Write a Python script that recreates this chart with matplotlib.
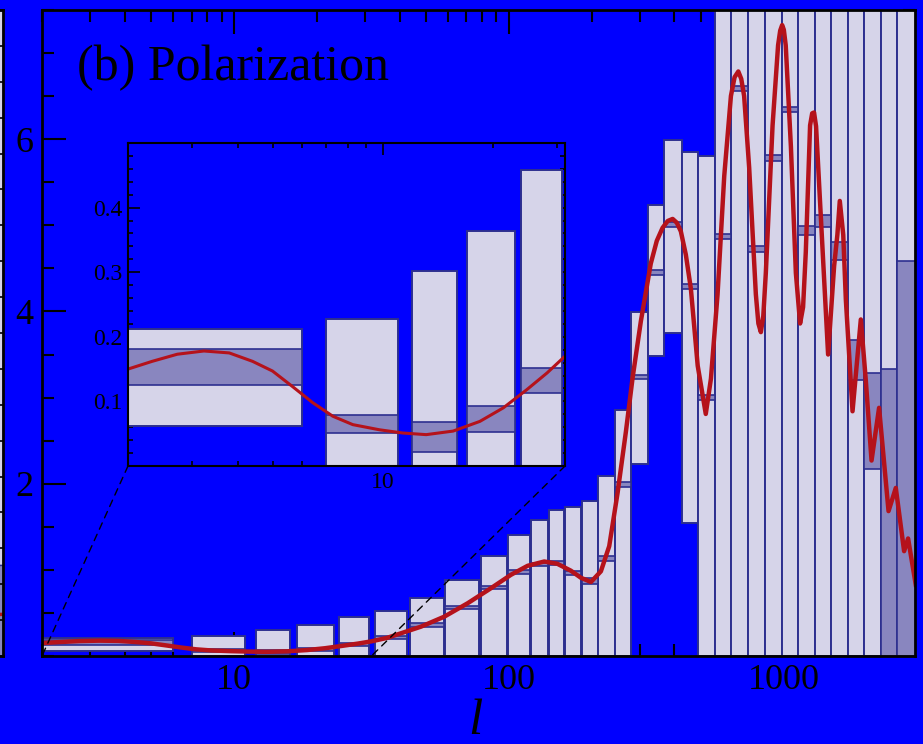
import numpy as np
import matplotlib.pyplot as plt
from matplotlib.ticker import LogLocator, MultipleLocator, NullFormatter
from matplotlib.patches import ConnectionPatch

plt.rcParams['font.family'] = 'Liberation Serif'

BLUE = '#0000ff'
LIGHT = '#d6d4e9'
DARK = '#8986bf'
EDGE = '#2d2f8f'
RED = '#b5121b'

# multipole bins
l_lo = [2, 7, 12, 17, 24, 32.6, 43.8, 58.7, 79, 99.5, 120, 140, 160, 184, 211, 243,
        279, 321, 368, 425, 488, 561, 645, 742, 853, 981, 1128, 1299, 1482, 1705,
        1960, 2254, 2590]
l_hi = [6, 11, 16, 23, 31, 42.6, 57.9, 78, 98.4, 118.8, 138.7, 159, 183, 210, 243, 279,
        321, 368, 425, 488, 561, 645, 742, 853, 981, 1128, 1299, 1482, 1705, 1960,
        2254, 2590, 3100]
# light boxes (outer range)
box_lo = [0.0625, 0, 0, 0, 0, 0, 0, 0, 0, 0, 0, 0, 0, 0, 0, 0,
          2.229, 3.48, 3.753, 1.54, 0, 0, 0, 0, 0, 0, 0, 0, 0, 0,
          0, 0, 0]
box_hi = [0.2124, 0.2268, 0.3017, 0.3637, 0.4578, 0.527, 0.675, 0.884, 1.155, 1.399,
          1.574, 1.698, 1.731, 1.801, 2.093, 2.85, 3.99, 5.24, 5.99, 5.85, 5.806,
          9, 9, 9, 9, 9, 9, 9, 9, 9, 9, 9, 9]
# dark bands (inner range)
band_lo = [0.126, 0.0511, 0.0217, 0.0521, 0.113, 0.194, 0.334, 0.543, 0.775, 0.953,
           1.047, 1.058, 0.94, 0.84, 1.10, 1.967, 3.212, 4.42, 4.98, 4.256, 2.977,
           4.845, 6.56, 4.69, 5.75, 6.31, 4.885, 4.985, 4.593, 3.205, 2.171, 0, 0]
band_hi = [0.181, 0.0785, 0.0676, 0.0935, 0.152, 0.236, 0.38, 0.581, 0.818, 1.0,
           1.085, 1.108, 0.99, 0.9, 1.158, 2.022, 3.267, 4.48, 5.04, 4.314, 3.035,
           4.903, 6.62, 4.76, 5.815, 6.376, 4.99, 5.115, 4.805, 3.67, 3.283, 3.33, 4.585]

# model curve
ell = [2.0, 2.33, 2.73, 3.23, 3.79, 4.39, 4.98, 5.65, 6.42, 7.29, 8.27, 9.79, 11.35,
       13.15, 15.58, 18.45, 21.4, 24.8, 28.2, 31.6, 36, 40.5, 47.9, 58.2, 70.8, 86,
       101.6, 116.9, 134.4, 150, 168, 182.7, 198.7, 216, 231.6, 248.5, 266.3, 281.6,
       302, 328, 345, 362, 378, 394, 408, 422, 440, 459, 486, 520, 543, 574, 607, 642,
       662, 683, 700, 717, 748, 791, 808, 825, 842, 860, 910, 953, 970, 986, 1000,
       1016, 1061, 1106, 1146, 1175, 1202, 1246, 1268, 1288, 1310, 1363, 1449, 1524,
       1566, 1598, 1645, 1681, 1778, 1906, 1985, 2085, 2221, 2404, 2555, 2739, 2832,
       3020]
dl = [0.150, 0.162, 0.173, 0.178, 0.175, 0.162, 0.147, 0.123, 0.098, 0.077, 0.064,
      0.056, 0.051, 0.0485, 0.054, 0.069, 0.090, 0.118, 0.144, 0.170, 0.21, 0.264,
      0.341, 0.457, 0.613, 0.787, 0.942, 1.047, 1.097, 1.07, 0.99, 0.908, 0.859,
      0.983, 1.275, 1.897, 2.603, 3.226, 3.89, 4.555, 4.82, 4.97, 5.05, 5.074, 5.03,
      4.93, 4.66, 4.264, 3.37, 2.81, 3.22, 4.20, 5.572, 6.502, 6.72, 6.786, 6.70,
      6.502, 5.67, 4.20, 3.86, 3.76, 3.95, 4.447, 6.16, 7.09, 7.26, 7.325, 7.27,
      7.09, 5.915, 4.447, 3.86, 4.05, 4.69, 6.16, 6.30, 6.31, 6.15, 5.108, 3.5, 4.527,
      4.89, 5.283, 4.89, 4.14, 2.841, 3.907, 3.22, 2.269, 2.881, 1.682, 1.951, 1.217,
      1.364, 0.826]

# neighbouring panel sliver at the left edge
side_light = [1.27, 9]
side_dark = [0, 1.27]
side_red = [0.56, 0.58]


def draw_bins(ax, lw_line):
    lo = np.array(l_lo)
    w = np.array(l_hi) - lo
    ax.bar(lo, np.array(box_hi) - np.array(box_lo), width=w, bottom=box_lo,
           align='edge', color=LIGHT, edgecolor=EDGE, linewidth=1.4, zorder=2)
    ax.bar(lo, np.array(band_hi) - np.array(band_lo), width=w, bottom=band_lo,
           align='edge', color=DARK, edgecolor=EDGE, linewidth=1.2, zorder=3)
    ax.plot(ell, dl, color=RED, lw=lw_line, zorder=4, solid_joinstyle='round')


fig = plt.figure(figsize=(9.23, 7.44), dpi=100)
fig.patch.set_facecolor(BLUE)

# left sliver
axs = fig.add_axes([-0.05, 0.1183, 0.05 + 3 / 923, 0.8683])
axs.set_facecolor(BLUE)
axs.bar([0], [side_light[1] - side_light[0]], width=1, bottom=side_light[0],
        align='edge', color=LIGHT, edgecolor=EDGE, lw=1)
axs.bar([0], [side_dark[1] - side_dark[0]], width=1, bottom=side_dark[0],
        align='edge', color=DARK, edgecolor=EDGE, lw=1)
axs.plot([0, 1], side_red, color=RED, lw=2.5)
axs.set_xlim(0, 1)
axs.set_ylim(0, 9)
axs.yaxis.set_major_locator(MultipleLocator(0.5))
axs.tick_params(direction='in', left=False, right=True, labelleft=False,
                bottom=False, labelbottom=False, length=6, width=1.2)
for s in axs.spines.values():
    s.set_linewidth(2)

# main panel
ax = fig.add_axes([0.0455, 0.1183, 0.9458, 0.8683])
ax.set_facecolor(BLUE)
ax.set_xscale('log')
draw_bins(ax, 3.2)
ax.set_xlim(2, 3000)
ax.set_ylim(0, 7.5)
ax.set_xticks([10, 100, 1000], ['10', '100', '1000'])
ax.xaxis.set_minor_locator(LogLocator(base=10, subs=np.arange(2, 10)))
ax.xaxis.set_minor_formatter(NullFormatter())
ax.set_yticks([2, 4, 6], ['2', '4', '6'])
ax.yaxis.set_minor_locator(MultipleLocator(0.5))
ax.tick_params(which='both', direction='in', top=True, right=True, width=1.5,
               labelsize=26)
ax.tick_params(which='major', length=17, pad=6)
ax.tick_params(which='minor', length=8.5)
for s in ax.spines.values():
    s.set_linewidth(2)
    s.set_zorder(5)
ax.text(0.040, 0.8916, '(b) Polarization', transform=ax.transAxes, fontsize=36,
        va='baseline', ha='left')
fig.text(475 / 923, 0.014, 'l', fontsize=37, style='italic', ha='center',
         va='baseline')

# inset
axi = fig.add_axes([0.1387, 0.3737, 0.4735, 0.4341])
axi.set_facecolor(BLUE)
axi.set_xscale('log')
draw_bins(axi, 2.2)
axi.set_xlim(2, 31.6)
axi.set_ylim(0, 0.5)
axi.set_xticks([10], ['10'])
axi.xaxis.set_minor_locator(LogLocator(base=10, subs=np.arange(2, 10)))
axi.xaxis.set_minor_formatter(NullFormatter())
axi.set_yticks([0.1, 0.2, 0.3, 0.4], ['0.1', '0.2', '0.3', '0.4'])
axi.yaxis.set_minor_locator(MultipleLocator(0.02))
axi.tick_params(which='both', direction='in', top=True, right=True, width=1.2,
                labelsize=17)
axi.tick_params(which='major', length=8.5, pad=4)
axi.tick_params(which='minor', length=3.8)
for s in axi.spines.values():
    s.set_linewidth(1.5)
    s.set_zorder(5)

# dashed zoom guides
for xa, xb in [(0, 2), (1, 31.6)]:
    con = ConnectionPatch(xyA=(xa, 0), coordsA=axi.transAxes,
                          xyB=(xb, 0), coordsB=ax.transData,
                          linestyle=(0, (5, 4)), color='black', lw=1.0)
    con.set_zorder(6)
    fig.add_artist(con)

fig.savefig('out.png', dpi=100, facecolor=BLUE)
